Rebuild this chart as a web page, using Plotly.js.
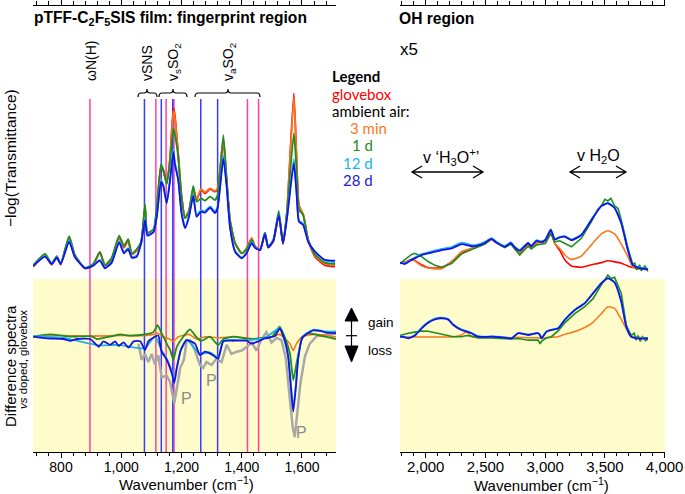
<!DOCTYPE html>
<html><head><meta charset="utf-8">
<script src="https://cdn.plot.ly/plotly-3.0.1.min.js"></script>
<style>html,body{margin:0;padding:0;background:#fff}#c{width:685px;height:494px}</style>
</head><body><div id="c"></div><script>
// ---------- DATA ----------
// Fingerprint region, absorbance (-log T), common wavenumber grid
const wnFinger = [708,747,769,786,799,827,846,880,907,929,946,968,993,1009,1023,1035,1051,1066,1079,1087,1107,1118,1132,1140,1151,1162,1173,1178,1189,1200,1212,1225,1239,1250,1265,1278,1295,1311,1320,1339,1350,1361,1378,1400,1416,1433,1444,1461,1477,1488,1505,1523,1537,1550,1573,1582,1590,1604,1621,1643,1676,1710];
const absGlovebox = [0.045,0.088,0.052,0.080,0.053,0.152,0.085,0.038,0.052,0.098,0.048,0.072,0.152,0.115,0.140,0.090,0.104,0.130,0.262,0.162,0.172,0.255,0.411,0.395,0.350,0.445,0.626,0.600,0.460,0.305,0.225,0.250,0.330,0.290,0.326,0.314,0.329,0.320,0.330,0.503,0.360,0.216,0.131,0.094,0.112,0.150,0.120,0.106,0.168,0.116,0.138,0.235,0.128,0.245,0.680,0.450,0.270,0.236,0.140,0.082,0.051,0.045];
const absMin3 = [0.047,0.090,0.054,0.082,0.055,0.155,0.087,0.040,0.054,0.099,0.050,0.074,0.155,0.118,0.143,0.092,0.106,0.133,0.266,0.165,0.176,0.258,0.416,0.398,0.352,0.442,0.615,0.592,0.458,0.306,0.226,0.252,0.334,0.292,0.330,0.318,0.332,0.323,0.334,0.510,0.362,0.218,0.132,0.095,0.113,0.150,0.121,0.107,0.170,0.118,0.140,0.240,0.130,0.244,0.665,0.445,0.268,0.238,0.142,0.086,0.055,0.050];
const abs1d = [0.051,0.092,0.057,0.084,0.057,0.157,0.088,0.041,0.055,0.098,0.051,0.077,0.159,0.121,0.146,0.094,0.109,0.137,0.273,0.170,0.182,0.265,0.421,0.399,0.348,0.430,0.552,0.530,0.448,0.301,0.222,0.247,0.341,0.283,0.295,0.287,0.302,0.289,0.308,0.527,0.363,0.216,0.131,0.094,0.109,0.143,0.118,0.106,0.170,0.118,0.143,0.249,0.131,0.241,0.534,0.400,0.253,0.234,0.143,0.090,0.060,0.055];
const abs12d = [0.049,0.084,0.056,0.080,0.056,0.141,0.082,0.041,0.051,0.070,0.042,0.062,0.138,0.098,0.113,0.081,0.085,0.135,0.222,0.162,0.175,0.233,0.363,0.344,0.283,0.367,0.476,0.428,0.370,0.247,0.190,0.232,0.310,0.233,0.252,0.248,0.266,0.246,0.265,0.452,0.344,0.194,0.103,0.079,0.097,0.135,0.117,0.108,0.168,0.117,0.142,0.238,0.132,0.225,0.440,0.322,0.215,0.202,0.138,0.100,0.068,0.062];
const abs28d = [0.048,0.082,0.055,0.078,0.055,0.137,0.080,0.040,0.049,0.067,0.039,0.059,0.134,0.094,0.109,0.078,0.081,0.132,0.216,0.159,0.171,0.228,0.356,0.338,0.277,0.360,0.466,0.420,0.363,0.241,0.186,0.228,0.304,0.228,0.247,0.243,0.261,0.241,0.259,0.442,0.338,0.190,0.100,0.076,0.094,0.131,0.114,0.106,0.165,0.115,0.140,0.234,0.130,0.220,0.424,0.314,0.210,0.198,0.135,0.100,0.070,0.067];

// Fingerprint region, difference spectra vs doped glovebox
const diffF3minX = [708,800,900,1000,1079,1107,1121,1140,1160,1173,1190,1225,1250,1280,1322,1372,1416,1440,1500,1526,1545,1560,1571,1582,1600,1640,1713];
const diffF3minY = [0,0.01,0.005,0.01,0.01,0.02,0.03,0.0,-0.02,-0.04,0.0,0.02,-0.02,0.0,-0.01,0.0,-0.01,-0.02,0.0,0.02,-0.02,-0.06,-0.12,-0.06,0.0,0.02,0.0];
const diffF1dX = [708,763,833,900,918,960,996,1029,1079,1107,1121,1134,1151,1163,1173,1184,1206,1228,1250,1266,1294,1322,1339,1372,1427,1471,1500,1526,1543,1560,1571,1582,1599,1616,1660,1713];
const diffF1dY = [0,0.02,0,0.005,-0.02,0.0,0.02,0.01,0.02,0.04,0.10,0.03,-0.06,-0.12,-0.20,-0.09,0.0,0.064,-0.005,-0.037,0.0,-0.072,-0.02,0.0,-0.02,-0.01,0.0,0.087,-0.005,-0.144,-0.376,-0.23,-0.025,0.03,0.01,-0.02];
const diffF12dX = [708,808,925,991,1024,1079,1112,1134,1151,1168,1176,1184,1198,1217,1261,1294,1322,1339,1416,1477,1526,1554,1563,1571,1580,1587,1601,1637,1682,1713];
const diffF12dY = [0.005,-0.01,-0.075,-0.07,-0.085,-0.1,0.005,-0.12,-0.19,-0.3,-0.38,-0.27,-0.11,-0.025,-0.15,-0.135,-0.18,-0.035,-0.03,-0.01,0.075,-0.16,-0.41,-0.62,-0.41,-0.19,0.0,0.06,0.045,0.045];
const diffF28dX = [708,753,808,831,853,897,925,941,963,980,991,1008,1024,1041,1063,1079,1090,1112,1123,1134,1151,1168,1176,1184,1198,1217,1245,1261,1278,1294,1311,1322,1339,1372,1416,1433,1455,1477,1510,1526,1543,1554,1563,1571,1580,1587,1601,1620,1637,1660,1682,1713];
const diffF28dY = [0,-0.015,-0.02,-0.035,-0.02,-0.02,-0.087,-0.04,-0.07,-0.04,-0.08,-0.05,-0.095,-0.04,-0.04,-0.115,-0.04,0.0,0.01,-0.13,-0.2,-0.32,-0.40,-0.28,-0.115,-0.03,-0.06,-0.159,-0.13,-0.145,-0.173,-0.19,-0.04,-0.035,-0.035,-0.06,-0.04,-0.015,0.005,0.07,-0.03,-0.17,-0.43,-0.65,-0.43,-0.2,-0.01,0.03,0.055,0.05,0.035,0.03];
const polyX = [1057,1068,1079,1090,1101,1112,1123,1134,1151,1162,1176,1184,1196,1208,1217,1228,1245,1261,1272,1283,1300,1316,1333,1350,1366,1383,1400,1416,1433,1449,1466,1482,1499,1516,1532,1546,1558,1569,1576,1584,1595,1610,1626,1649,1682,1713];
const polyY = [-0.06,-0.2,-0.15,-0.22,-0.15,-0.24,-0.16,-0.35,-0.34,-0.39,-0.58,-0.44,-0.27,-0.2,-0.04,-0.03,-0.12,-0.245,-0.27,-0.22,-0.245,-0.19,-0.22,-0.07,-0.15,-0.13,-0.12,-0.09,-0.05,-0.12,-0.02,0.04,-0.05,-0.01,-0.03,-0.18,-0.49,-0.78,-0.87,-0.69,-0.40,-0.17,-0.06,0.005,0.02,0.03];

// OH region, absorbance (x5)
const wnOH = [1785,1827,1882,1910,1966,2021,2077,2133,2217,2300,2384,2426,2495,2551,2593,2662,2712,2746,2787,2857,2885,2927,2969,3002,3047,3080,3122,3164,3220,3303,3387,3470,3525,3581,3637,3692,3734,3776,3820,3860];
const ohGlovebox = [0.057,0.062,0.072,0.068,0.052,0.042,0.040,0.042,0.064,0.094,0.112,0.117,0.130,0.145,0.133,0.120,0.130,0.112,0.093,0.125,0.115,0.133,0.135,0.138,0.170,0.131,0.105,0.070,0.048,0.043,0.052,0.060,0.067,0.063,0.058,0.048,0.042,0.038,0.036,0.035];
const ohMin3 = [0.057,0.062,0.070,0.066,0.048,0.040,0.037,0.038,0.064,0.100,0.112,0.117,0.130,0.145,0.133,0.120,0.130,0.112,0.095,0.126,0.115,0.133,0.138,0.140,0.174,0.131,0.112,0.088,0.072,0.084,0.125,0.165,0.177,0.165,0.128,0.082,0.043,0.038,0.036,0.035];
const oh1dX = [1785,1827,1882,1910,1966,2021,2077,2133,2217,2300,2384,2426,2495,2551,2593,2662,2712,2746,2787,2857,2885,2927,2969,3002,3047,3080,3122,3164,3220,3303,3387,3440,3470,3500,3525,3550,3581,3610,3637,3692,3734,3750,3765,3790,3805,3835,3860];
const oh1dY = [0.057,0.070,0.090,0.094,0.082,0.064,0.050,0.043,0.057,0.092,0.109,0.115,0.128,0.147,0.135,0.115,0.128,0.108,0.088,0.120,0.110,0.125,0.128,0.130,0.167,0.136,0.140,0.130,0.118,0.149,0.210,0.255,0.268,0.292,0.286,0.296,0.268,0.258,0.216,0.115,0.051,0.060,0.034,0.052,0.030,0.048,0.028];
const oh12d = [0.060,0.057,0.072,0.079,0.091,0.098,0.104,0.110,0.117,0.133,0.124,0.125,0.136,0.150,0.136,0.121,0.134,0.118,0.106,0.133,0.122,0.142,0.137,0.145,0.182,0.147,0.154,0.157,0.145,0.163,0.218,0.268,0.279,0.262,0.206,0.108,0.053,0.044,0.040,0.037];
const oh28d = [0.060,0.055,0.070,0.076,0.088,0.094,0.100,0.106,0.112,0.128,0.120,0.121,0.132,0.147,0.133,0.118,0.131,0.115,0.103,0.131,0.120,0.140,0.135,0.143,0.180,0.145,0.152,0.155,0.142,0.161,0.216,0.267,0.277,0.260,0.204,0.106,0.051,0.042,0.038,0.035];

// OH region, difference spectra
const wnOHdiff = [1785,1827,1854,1910,1966,2021,2077,2133,2189,2231,2300,2342,2384,2440,2551,2635,2718,2774,2857,2941,2958,2969,3011,3052,3108,3164,3248,3331,3401,3470,3525,3581,3637,3679,3720,3776,3860];
const ohDiffMin3 = [0,-0.003,-0.003,-0.002,-0.003,-0.003,-0.002,-0.002,-0.002,0,0.015,0.044,0,-0.002,-0.003,-0.005,-0.008,-0.005,-0.010,-0.010,-0.012,-0.012,-0.010,-0.005,0,0.020,0.045,0.080,0.125,0.200,0.260,0.245,0.150,0.070,0,-0.005,-0.010];
const ohDiff1dX = [1785,1827,1854,1910,1966,2021,2077,2133,2189,2231,2300,2342,2384,2440,2551,2635,2718,2774,2857,2941,2958,2969,3011,3052,3108,3164,3248,3331,3401,3470,3500,3525,3550,3581,3637,3679,3720,3745,3760,3776,3795,3815,3840,3860];
const ohDiff1dY = [0.010,0.025,0.030,0.040,0.049,0.047,0.035,0.020,0.005,0,0,0.010,0.005,-0.010,-0.010,-0.015,-0.020,-0.015,-0.030,-0.030,-0.063,-0.040,-0.010,0,0.050,0.120,0.200,0.260,0.330,0.450,0.500,0.535,0.505,0.515,0.376,0.100,0.010,0.030,-0.030,0.010,-0.040,0.000,-0.035,-0.020];
const ohDiff12d = [0.002,-0.003,-0.012,0.015,0.078,0.128,0.157,0.166,0.154,0.107,0.062,0.048,0.032,0.002,0.002,-0.002,-0.012,0.032,0.018,0.032,0.012,-0.012,0.046,0.060,0.075,0.148,0.234,0.292,0.379,0.466,0.509,0.473,0.307,0.090,0.003,-0.012,-0.012];
const ohDiff28d = [0,-0.005,-0.015,0.010,0.072,0.121,0.150,0.160,0.148,0.101,0.058,0.045,0.030,0,0,-0.005,-0.015,0.030,0.015,0.030,0.010,-0.015,0.044,0.058,0.072,0.145,0.231,0.289,0.376,0.463,0.506,0.470,0.304,0.087,0,-0.015,-0.015];

// Reference lines (wavenumber)
const pinkLines = [896,1115,1149,1175,1419,1456];
const blueLines = [1077,1133,1171,1264,1320];

// ---------- STYLE ----------
const C = {red:'#ff0000', orange:'#f7781e', green:'#1e8c1e', lblue:'#1ab2ef', blue:'#1414e0', gray:'#a8a8a8', pink:'#ff40a0', bline:'#3c3cff', yellow:'#fefccb'};
const W=685, H=494;
const X = p => p/W, Y = p => 1 - p/H;
const FONT = 'Liberation Sans, Arial, sans-serif';

function tr(x,y,color,width,xa,ya,shape){
  return {type:'scatter',mode:'lines',x:x,y:y,xaxis:xa,yaxis:ya,hoverinfo:'skip',
    line:{color:color,width:width,shape:shape||'spline',smoothing:0.5}};
}
const data = [
  tr(wnFinger,absGlovebox,C.red,1.8,'x3','y2'),
  tr(wnFinger,absMin3,C.orange,1.8,'x3','y2'),
  tr(wnFinger,abs1d,C.green,1.8,'x3','y2'),
  tr(wnFinger,abs12d,C.lblue,1.8,'x3','y2'),
  tr(wnFinger,abs28d,C.blue,1.8,'x3','y2'),
  tr(polyX,polyY,C.gray,2.5,'x','y','linear'),
  tr(diffF3minX,diffF3minY,C.orange,1.6,'x','y'),
  tr(diffF1dX,diffF1dY,C.green,1.8,'x','y'),
  tr(diffF12dX,diffF12dY,C.lblue,1.8,'x','y'),
  tr(diffF28dX,diffF28dY,C.blue,1.8,'x','y'),
  tr(wnOH,ohGlovebox,C.red,1.6,'x4','y4'),
  tr(wnOH,ohMin3,C.orange,1.6,'x4','y4'),
  tr(oh1dX,oh1dY,C.green,1.6,'x4','y4','linear'),
  tr(wnOH,oh12d,C.lblue,1.8,'x4','y4'),
  tr(wnOH,oh28d,C.blue,1.8,'x4','y4'),
  tr(wnOHdiff,ohDiffMin3,C.orange,1.5,'x2','y3'),
  tr(ohDiff1dX,ohDiff1dY,C.green,1.6,'x2','y3','linear'),
  tr(wnOHdiff,ohDiff12d,C.lblue,1.8,'x2','y3'),
  tr(wnOHdiff,ohDiff28d,C.blue,1.8,'x2','y3')
];

const axBase = {showgrid:false, zeroline:false, showline:true, linecolor:'#000', linewidth:1,
  ticks:'outside', tickcolor:'#000', tickwidth:1, ticklen:5, fixedrange:true};
const leftDom = [X(33), X(336)], rightDom = [X(400), X(665)];
const leftRange = [707,1713], rightRange = [1785,4003];
const diffDom = [Y(452), Y(262)], diffRange = [-1, 0.648];
const absDom = [Y(279), Y(6)], absRange = [0, 1];

const layout = {
  width:W, height:H, margin:{l:0,r:0,t:0,b:0,pad:0},
  paper_bgcolor:'#fff', plot_bgcolor:'rgba(0,0,0,0)', showlegend:false,
  separators:'.,', font:{family:FONT, color:'#000'},
  xaxis: Object.assign({}, axBase, {domain:leftDom, range:leftRange, anchor:'y', tick0:0, dtick:200,
    separatethousands:true, tickfont:{size:14, family:FONT}, ticklabelstandoff:-3,
    minor:{dtick:40, tick0:0, ticklen:3, ticks:'outside', tickcolor:'#000'}}),
  xaxis3: Object.assign({}, axBase, {domain:leftDom, range:leftRange, anchor:'y2', side:'top', tick0:0, dtick:200,
    showticklabels:false, minor:{dtick:40, tick0:0, ticklen:4, ticks:'outside', tickcolor:'#000'}}),
  xaxis2: Object.assign({}, axBase, {domain:rightDom, range:rightRange, anchor:'y3', tick0:0, dtick:500,
    separatethousands:true, tickfont:{size:15, family:FONT}, ticklabelstandoff:-4,
    minor:{dtick:100, tick0:0, ticklen:3, ticks:'outside', tickcolor:'#000'}}),
  xaxis4: Object.assign({}, axBase, {domain:rightDom, range:rightRange, anchor:'y4', side:'top', tick0:0, dtick:500,
    showticklabels:false, minor:{dtick:100, tick0:0, ticklen:4, ticks:'outside', tickcolor:'#000'}}),
  yaxis: {domain:diffDom, range:diffRange, visible:false, fixedrange:true},
  yaxis2:{domain:absDom, range:absRange, visible:false, fixedrange:true},
  yaxis3:{domain:diffDom, range:diffRange, visible:false, fixedrange:true},
  yaxis4:{domain:absDom, range:absRange, visible:false, fixedrange:true},
  shapes:[], annotations:[]
};

// yellow backgrounds for difference panels
['x','x2'].forEach(xa => layout.shapes.push({type:'rect', xref:xa+' domain', yref:'paper', x0:0, x1:1,
  y0:Y(452), y1:Y(279), fillcolor:C.yellow, line:{width:0}, layer:'below'}));
// reference lines
pinkLines.forEach(w => layout.shapes.push({type:'line', xref:'x', yref:'paper', x0:w, x1:w, y0:Y(452), y1:Y(99),
  line:{color:C.pink, width:1.5}, layer:'below'}));
blueLines.forEach(w => layout.shapes.push({type:'line', xref:'x', yref:'paper', x0:w, x1:w, y0:Y(452), y1:Y(99),
  line:{color:C.bline, width:1.5}, layer:'below'}));

// braces
function brace(x0,x1,xc,yb){
  const h=4, r=3;
  const p = `M ${X(x0)},${Y(yb+h)} Q ${X(x0)},${Y(yb)} ${X(x0+r)},${Y(yb)} L ${X(xc-r)},${Y(yb)} Q ${X(xc)},${Y(yb)} ${X(xc)},${Y(yb-h)} Q ${X(xc)},${Y(yb)} ${X(xc+r)},${Y(yb)} L ${X(x1-r)},${Y(yb)} Q ${X(x1)},${Y(yb)} ${X(x1)},${Y(yb+h)}`;
  return {type:'path', xref:'paper', yref:'paper', path:p, line:{color:'#000', width:1.2}};
}
layout.shapes.push(brace(138,157,147,93), brace(159,187,173,93), brace(195,260,228,93));

// double arrows
function dblArrow(x0,x1,y){
  const p = `M ${X(x0)},${Y(y)} L ${X(x1)},${Y(y)} M ${X(x0+10)},${Y(y-6)} L ${X(x0)},${Y(y)} L ${X(x0+10)},${Y(y+6)} M ${X(x1-10)},${Y(y-6)} L ${X(x1)},${Y(y)} L ${X(x1-10)},${Y(y+6)}`;
  return {type:'path', xref:'paper', yref:'paper', path:p, line:{color:'#000', width:1.3}};
}
layout.shapes.push(dblArrow(412,483,172), dblArrow(570,626,172));

// gain / loss symbol
layout.shapes.push(
  {type:'path', xref:'paper', yref:'paper', path:`M ${X(345)},${Y(321)} L ${X(351.5)},${Y(308)} L ${X(358)},${Y(321)} Z`, fillcolor:'#000', line:{color:'#000', width:1}},
  {type:'path', xref:'paper', yref:'paper', path:`M ${X(345)},${Y(346)} L ${X(358)},${Y(346)} L ${X(351.5)},${Y(362)} Z`, fillcolor:'#000', line:{color:'#000', width:1}},
  {type:'line', xref:'paper', yref:'paper', x0:X(351.5), x1:X(351.5), y0:Y(321), y1:Y(346), line:{color:'#000', width:1.2}},
  {type:'line', xref:'paper', yref:'paper', x0:X(346), x1:X(357), y0:Y(335.7), y1:Y(335.7), line:{color:'#000', width:1.2}}
);

function txt(text,x,y,opt){
  return Object.assign({text:text, x:X(x), y:Y(y), xref:'paper', yref:'paper', showarrow:false,
    xanchor:'left', yanchor:'middle', font:{family:FONT, size:15, color:'#000'}}, opt||{});
}
const A = layout.annotations;
A.push(txt('<b>pTFF-C<sub>2</sub>F<sub>5</sub>SIS film: fingerprint region</b>',32,18,{font:{family:FONT,size:15.6,color:'#000'}}));
A.push(txt('<b>OH region</b>',397,18,{font:{family:FONT,size:15.6,color:'#000'}}));
A.push(txt('x5',398,50,{font:{family:FONT,size:17,color:'#000'}}));
A.push(txt('−log(Transmittance)',10,158,{xanchor:'center', textangle:-90, font:{family:FONT,size:15.5,color:'#000'}}));
A.push(txt('Difference spectra',10,366,{xanchor:'center', textangle:-90, font:{family:FONT,size:15,color:'#000'}}));
A.push(txt('<i>vs</i> doped, glovebox',23,360,{xanchor:'center', textangle:-90, font:{family:FONT,size:11.5,color:'#000'}}));
// x-axis titles
A.push(txt('Wavenumber (cm<sup>−1</sup>)',186,483,{xanchor:'center', font:{family:FONT,size:15,color:'#000'}}));
A.push(txt('Wavenumber (cm<sup>−1</sup>)',541,484,{xanchor:'center', font:{family:FONT,size:15,color:'#000'}}));
// band labels
[['ωN(H)',91],['vSNS',147],['v<sub>s</sub>SO<sub>2</sub>',174],['v<sub>a</sub>SO<sub>2</sub>',229]].forEach(b =>
  A.push(txt(b[0],b[1],83,{xanchor:'center', yanchor:'bottom', textangle:-90, font:{family:FONT,size:14,color:'#000'}})));
// legend
const LF = 'Lato, Calibri, sans-serif';
A.push(txt('<b>Legend</b>',330,76,{font:{family:LF,size:15,color:'#000'}}));
A.push(txt('glovebox',330,94,{font:{family:LF,size:15,color:C.red}}));
A.push(txt('ambient air:',330,111,{font:{family:LF,size:15,color:'#000'}}));
A.push(txt('3 min',348,128,{font:{family:LF,size:15,color:C.orange}}));
A.push(txt('1 d',350,145,{font:{family:LF,size:15,color:C.green}}));
A.push(txt('12 d',341,163,{font:{family:LF,size:15,color:C.lblue}}));
A.push(txt('28 d',341,180,{font:{family:LF,size:15,color:'#2020d0'}}));
// OH band labels
A.push(txt('v ‘H<sub>3</sub>O<sup>+</sup>’',451,157,{xanchor:'center', font:{family:FONT,size:16,color:'#000'}}));
A.push(txt('v H<sub>2</sub>O',598,157,{xanchor:'center', font:{family:FONT,size:16,color:'#000'}}));
// gain / loss
A.push(txt('gain',366,322,{font:{family:FONT,size:13.5,color:'#000'}}));
A.push(txt('loss',366,350,{font:{family:FONT,size:13.5,color:'#000'}}));
// polymer markers
[[1217,-0.534],[1300,-0.376],[1599,-0.83]].forEach(p =>
  A.push({text:'P', x:p[0], y:p[1], xref:'x', yref:'y', showarrow:false, xanchor:'center', yanchor:'middle',
    font:{family:FONT, size:16, color:'#8c8c8c'}}));

Plotly.newPlot('c', data, layout, {staticPlot:true, displayModeBar:false});
</script></body></html>
